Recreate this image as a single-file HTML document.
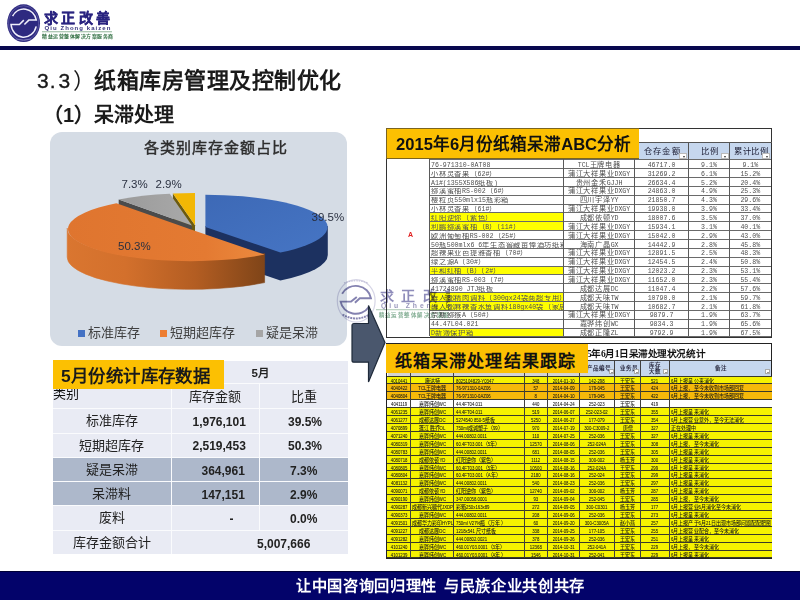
<!DOCTYPE html>
<html lang="zh-CN"><head><meta charset="utf-8">
<style>
*{margin:0;padding:0;box-sizing:border-box}
html,body{width:800px;height:600px;overflow:hidden;background:#fff;font-family:"Liberation Sans",sans-serif;color:#000}
.a{position:absolute}
.n{white-space:nowrap}
#topbar{left:0;top:46.3px;width:800px;height:3.4px;background:#08084f}
#title{left:94px;top:66px;font-size:22px;font-weight:bold;color:#1a1a1a;white-space:nowrap;line-height:30px;letter-spacing:0.5px}
#sub{left:43px;top:100.5px;font-size:20px;font-weight:bold;color:#1a1a1a;white-space:nowrap;line-height:28px}
#panel{left:50px;top:132px;width:297px;height:214px;background:#d5dce5;border-radius:12px}
.lbl{font-size:11.5px;color:#2a3040;white-space:nowrap;line-height:14px}
.leg{font-size:13px;color:#404040;white-space:nowrap;line-height:16px}
.sq{width:7px;height:7px}
/* stock table */
.tb{background:#e9ebf4;font-size:13px;color:#222;white-space:nowrap;text-align:center;line-height:24px}
.hl{background:#adb8cb}
.bn{font-weight:bold}
.nm{font-size:12px}
/* sheets */
.tt{position:absolute;font-family:"Liberation Mono",monospace;font-size:6.6px;line-height:7px;color:#505050;white-space:nowrap;letter-spacing:0}
.hd{font-size:8.3px;line-height:9px;color:#1a1a30;font-weight:normal;font-family:"Liberation Serif",serif}
.fb{width:8px;height:6px;background:#fff;border:0.5px solid #bbb}
.fb::after{content:"";position:absolute;left:2.5px;top:2px;border-left:1.5px solid transparent;border-right:1.5px solid transparent;border-top:2px solid #333}
.bt{position:absolute;font-size:5px;line-height:7px;color:#141414;-webkit-text-stroke:0.05px #141414;white-space:nowrap;transform:scaleX(0.86)}
.bt span{font-size:5.2px;letter-spacing:0.3px}
.hb{font-size:5.5px;line-height:6px;color:#2a2a40;font-weight:bold}
.fs{width:5px;height:5px;background:#fff;border:0.5px solid #aaa}
.fs::after{content:"";position:absolute;left:1px;top:1.5px;border-left:1.2px solid transparent;border-right:1.2px solid transparent;border-top:1.5px solid #333}
.c{position:absolute;border-right:1px solid #333;border-bottom:1px solid #333;font-size:7.5px;line-height:8px;color:#333;white-space:nowrap;overflow:hidden;padding:0 2px;font-family:"Liberation Mono",monospace}
.d{position:absolute;border-right:1px solid #444;border-bottom:1px solid #444;font-size:5px;line-height:7.5px;color:#555;white-space:nowrap;overflow:hidden;padding:0 1px}
#footer{left:0;top:571px;width:800px;height:29px;background:#03036a;border-top:1.5px solid #000035;color:#fff;font-size:15.2px;letter-spacing:0.68px;font-weight:bold;white-space:nowrap}
</style></head><body>
<!-- logo -->
<svg class="a" style="left:0;top:0" width="120" height="46" viewBox="0 0 120 46">
<ellipse cx="23.6" cy="23.2" rx="16.4" ry="18.9" fill="#2e2a80"/>
<ellipse cx="23.6" cy="23.2" rx="15" ry="17.5" fill="none" stroke="#7d79bb" stroke-width="0.5"/>
<path d="M12.6,16.2 A12.8,14 0 0 1 36.3,20.1 L28.8,20.1 L24.4,24.5" fill="none" stroke="#f0effa" stroke-width="1.5"/>
<path d="M36.2,26.4 A12.8,14 0 0 1 11.0,24.5 L19.4,24.5 L23.8,20.1" fill="none" stroke="#f0effa" stroke-width="1.5"/>
<path d="M16,39 Q23.6,41 31,39" fill="none" stroke="#9a96cc" stroke-width="0.6"/>
<text x="43.6" y="22.6" font-size="14" font-weight="bold" fill="#2a2480" stroke="#2a2480" stroke-width="0.35" letter-spacing="3.5">求正改善</text>
<text x="44.6" y="29.8" font-size="6" font-weight="bold" fill="#38357e" letter-spacing="1.05">Qiu Zhong kaizen</text>
<rect x="42" y="31.2" width="70" height="1.1" fill="#9cbca4"/>
<text x="42.3" y="38.2" font-size="4.9" font-weight="bold" fill="#2f6e40" letter-spacing="0.5">精益运营整体解决方案服务商</text>
</svg>
<div id="topbar" class="a"></div>
<div class="a n" style="left:37px;top:66px;font-size:21px;line-height:30px;color:#1a1a1a;-webkit-text-stroke:0.35px #1a1a1a">3<span style="margin-left:1px">.</span><span style="margin-left:3px">3</span></div>
<div id="title" class="a"><span class="a" style="left:-21.5px;top:0;font-weight:normal">）</span>纸箱库房管理及控制优化</div>
<div id="sub" class="a">（1）呆滞处理</div>

<!-- pie panel -->
<div id="panel" class="a"></div>
<div class="a n" style="left:143.5px;top:136.5px;font-size:15px;font-weight:normal;color:#2e2e2e;line-height:22px;letter-spacing:1.1px;-webkit-text-stroke:0.45px #2e2e2e">各类别库存金额占比</div>
<svg class="a" style="left:0;top:0" width="800" height="600" viewBox="0 0 800 600"><defs>
<linearGradient id="bg" x1="0" y1="0" x2="1" y2="1"><stop offset="0" stop-color="#3d69b6"/><stop offset="1" stop-color="#4675c4"/></linearGradient>
<linearGradient id="gg" x1="0" y1="0" x2="1" y2="0"><stop offset="0" stop-color="#9a9a9a"/><stop offset="1" stop-color="#a9a9a9"/></linearGradient>
<linearGradient id="og" gradientUnits="userSpaceOnUse" x1="65" y1="0" x2="266" y2="0"><stop offset="0" stop-color="#da7630"/><stop offset="0.3" stop-color="#d3702c"/><stop offset="0.65" stop-color="#b35d22"/><stop offset="1" stop-color="#7e4418"/></linearGradient>
<linearGradient id="ot" x1="0" y1="0" x2="1" y2="0"><stop offset="0" stop-color="#df752f"/><stop offset="0.7" stop-color="#e47a32"/><stop offset="1" stop-color="#ec8a3e"/></linearGradient>
</defs>
<path d="M195.0,225.2 L172.9,193.5 L172.9,221.5 L195.0,253.2 Z" fill="#6b5a10"/>
<path d="M191.9,225.4 L118.7,199.6 L118.7,227.6 L191.9,253.4 Z" fill="#4b4b4b"/>
<path d="M191.9,225.4 L118.7,199.6 A122.4,32.2 0 0 1 169.8,193.8 Z" fill="url(#gg)"/>
<path d="M195.0,225.2 L172.9,193.5 A122.4,32.2 0 0 1 195.0,193.0 Z" fill="#f2b705"/>
<path d="M205.4,226.0 L327.8,226.0 L327.8,255.0 A122.4,32.2 0 0 1 280.4,280.4 L205.4,255.0 Z" fill="#1c3160"/>
<path d="M205.4,227.0 L205.4,194.8 A122.4,32.2 0 0 1 280.4,252.4 Z" fill="url(#bg)"/>
<path d="M264.6,253.6 A122.4,32.2 0 0 1 67.2,228.1 L67.2,257.1 A122.4,32.2 0 0 0 264.6,282.6 Z" fill="url(#og)" stroke="url(#og)" stroke-width="0.6"/>
<path d="M189.6,229.1 L264.6,254.6 A122.4,32.2 0 1 1 116.4,203.3 Z" fill="url(#ot)"/></svg>
<div class="a lbl" style="left:121.5px;top:176.5px">7.3%</div>
<div class="a lbl" style="left:155.5px;top:176.5px">2.9%</div>
<div class="a lbl" style="left:311.5px;top:209.5px">39.5%</div>
<div class="a lbl" style="left:118px;top:238.5px">50.3%</div>
<div class="a sq" style="left:78px;top:330px;background:#4472c4"></div>
<div class="a leg" style="left:88px;top:325px">标准库存</div>
<div class="a sq" style="left:160px;top:330px;background:#ed7d31"></div>
<div class="a leg" style="left:170px;top:325px">短期超库存</div>
<div class="a sq" style="left:256px;top:330px;background:#a5a5a5"></div>
<div class="a leg" style="left:266px;top:325px">疑是呆滞</div>

<!-- stock table -->
<div class="a" style="left:53px;top:361px;width:295px;height:193px;background:#fafbfd"></div>
<div class="a tb" style="left:53px;top:361px;width:295px;height:21.7px"></div>
<div class="a n bn" style="left:251.5px;top:364.5px;font-size:11.5px;line-height:16px;color:#222">5月</div>
<div class="a tb" style="left:53px;top:383.5px;width:117.5px;height:24.5px;text-align:left;line-height:19px;color:#111">类别</div>
<div class="a tb" style="left:171.5px;top:383.5px;width:87.5px;height:24.5px;line-height:26px">库存金额</div>
<div class="a tb" style="left:260px;top:383.5px;width:88px;height:24.5px;line-height:26px">比重</div>
<div class="a tb" style="left:53px;top:409px;width:117.5px;height:23.5px;line-height:23.5px">标准库存</div>
<div class="a tb bn nm" style="left:171.5px;top:409px;width:87.5px;height:23.5px;text-align:left;padding-left:21px;line-height:23.5px;padding-top:1.5px">1,976,101</div>
<div class="a tb bn nm" style="left:260px;top:409px;width:88px;height:23.5px;text-align:left;padding-left:28px;line-height:23.5px;padding-top:1.5px">39.5%</div>
<div class="a tb" style="left:53px;top:433.5px;width:117.5px;height:23.8px;line-height:23.8px">短期超库存</div>
<div class="a tb bn nm" style="left:171.5px;top:433.5px;width:87.5px;height:23.8px;text-align:left;padding-left:21px;line-height:23.8px;padding-top:1.5px">2,519,453</div>
<div class="a tb bn nm" style="left:260px;top:433.5px;width:88px;height:23.8px;text-align:left;padding-left:28px;line-height:23.8px;padding-top:1.5px">50.3%</div>
<div class="a tb hl" style="left:53px;top:458.3px;width:117.5px;height:23.0px;line-height:23.0px">疑是呆滞</div>
<div class="a tb hl bn nm" style="left:171.5px;top:458.3px;width:87.5px;height:23.0px;text-align:left;padding-left:30px;line-height:23.0px;padding-top:1.5px">364,961</div>
<div class="a tb hl bn nm" style="left:260px;top:458.3px;width:88px;height:23.0px;text-align:left;padding-left:30px;line-height:23.0px;padding-top:1.5px">7.3%</div>
<div class="a tb hl" style="left:53px;top:482.3px;width:117.5px;height:23.0px;line-height:23.0px">呆滞料</div>
<div class="a tb hl bn nm" style="left:171.5px;top:482.3px;width:87.5px;height:23.0px;text-align:left;padding-left:30px;line-height:23.0px;padding-top:1.5px">147,151</div>
<div class="a tb hl bn nm" style="left:260px;top:482.3px;width:88px;height:23.0px;text-align:left;padding-left:30px;line-height:23.0px;padding-top:1.5px">2.9%</div>
<div class="a tb" style="left:53px;top:506.3px;width:117.5px;height:23.8px;line-height:23.8px">废料</div>
<div class="a tb bn nm" style="left:171.5px;top:506.3px;width:87.5px;height:23.8px;text-align:left;padding-left:58px;line-height:23.8px;padding-top:1.5px">-</div>
<div class="a tb bn nm" style="left:260px;top:506.3px;width:88px;height:23.8px;text-align:left;padding-left:30px;line-height:23.8px;padding-top:1.5px">0.0%</div>
<div class="a tb" style="left:53px;top:531.1px;width:117.5px;height:23px;line-height:23px">库存金额合计</div>
<div class="a tb bn nm" style="left:171.5px;top:531.1px;width:176.5px;height:23px;text-align:left;padding-left:85.5px;line-height:23px;padding-top:1.5px">5,007,666</div>

<div class="a n" style="left:53px;top:360px;width:171px;height:28.5px;background:#fcc002;font-size:17.4px;font-weight:bold;line-height:32px;padding-left:8px;color:#1a1a1a;letter-spacing:0.4px">5月份统计库存数据</div>


<!-- top sheet -->
<div class="a" style="left:429.5px;top:159px;width:342px;height:178px;background:#fff"></div>
<div class="a" style="left:638px;top:128.5px;width:133px;height:31px;background:#fff"></div>
<div class="a" style="left:429.5px;top:212.36px;width:134.25px;height:8.86px;background:#ffff00"></div>
<div class="a" style="left:429.5px;top:221.22px;width:134.25px;height:8.86px;background:#ffff00"></div>
<div class="a" style="left:429.5px;top:265.52px;width:134.25px;height:8.86px;background:#ffff00"></div>
<div class="a" style="left:429.5px;top:292.10px;width:134.25px;height:8.86px;background:#ffff00"></div>
<div class="a" style="left:429.5px;top:300.96px;width:134.25px;height:8.86px;background:#ffff00"></div>
<div class="a" style="left:429.5px;top:327.54px;width:134.25px;height:8.86px;background:#ffff00"></div>
<div class="a" style="left:429.5px;top:159.20px;width:341.75px;height:1px;background:#6a6a6a"></div>
<div class="a" style="left:429.5px;top:168.06px;width:341.75px;height:1px;background:#6a6a6a"></div>
<div class="a" style="left:429.5px;top:176.92px;width:341.75px;height:1px;background:#6a6a6a"></div>
<div class="a" style="left:429.5px;top:185.78px;width:341.75px;height:1px;background:#6a6a6a"></div>
<div class="a" style="left:429.5px;top:194.64px;width:341.75px;height:1px;background:#6a6a6a"></div>
<div class="a" style="left:429.5px;top:203.50px;width:341.75px;height:1px;background:#6a6a6a"></div>
<div class="a" style="left:429.5px;top:212.36px;width:341.75px;height:1px;background:#6a6a6a"></div>
<div class="a" style="left:429.5px;top:221.22px;width:341.75px;height:1px;background:#6a6a6a"></div>
<div class="a" style="left:429.5px;top:230.08px;width:341.75px;height:1px;background:#6a6a6a"></div>
<div class="a" style="left:429.5px;top:238.94px;width:341.75px;height:1px;background:#6a6a6a"></div>
<div class="a" style="left:429.5px;top:247.80px;width:341.75px;height:1px;background:#6a6a6a"></div>
<div class="a" style="left:429.5px;top:256.66px;width:341.75px;height:1px;background:#6a6a6a"></div>
<div class="a" style="left:429.5px;top:265.52px;width:341.75px;height:1px;background:#6a6a6a"></div>
<div class="a" style="left:429.5px;top:274.38px;width:341.75px;height:1px;background:#6a6a6a"></div>
<div class="a" style="left:429.5px;top:283.24px;width:341.75px;height:1px;background:#6a6a6a"></div>
<div class="a" style="left:429.5px;top:292.10px;width:341.75px;height:1px;background:#6a6a6a"></div>
<div class="a" style="left:429.5px;top:300.96px;width:341.75px;height:1px;background:#6a6a6a"></div>
<div class="a" style="left:429.5px;top:309.82px;width:341.75px;height:1px;background:#6a6a6a"></div>
<div class="a" style="left:429.5px;top:318.68px;width:341.75px;height:1px;background:#6a6a6a"></div>
<div class="a" style="left:429.5px;top:327.54px;width:341.75px;height:1px;background:#6a6a6a"></div>
<div class="a" style="left:429.5px;top:336.40px;width:341.75px;height:1px;background:#6a6a6a"></div>
<div class="a" style="left:429.00px;top:159.20px;width:1px;height:177.20px;background:#5a5a5a"></div>
<div class="a" style="left:563.25px;top:159.20px;width:1px;height:177.20px;background:#5a5a5a"></div>
<div class="a" style="left:634.00px;top:159.20px;width:1px;height:177.20px;background:#5a5a5a"></div>
<div class="a" style="left:688.00px;top:159.20px;width:1px;height:177.20px;background:#5a5a5a"></div>
<div class="a" style="left:728.90px;top:159.20px;width:1px;height:177.20px;background:#5a5a5a"></div>
<div class="tt" style="left:431.00px;top:161.80px;width:132.25px;overflow:hidden">76-971310-0AT08</div>
<div class="tt" style="left:563.75px;top:161.80px;width:70.75px;text-align:center">TCL<span style="font-size:7.2px;letter-spacing:0.75px">王牌电器</span></div>
<div class="tt" style="left:634.50px;top:161.80px;width:54.00px;text-align:center">46717.0</div>
<div class="tt" style="left:688.50px;top:161.80px;width:40.90px;text-align:center">9.1%</div>
<div class="tt" style="left:729.40px;top:161.80px;width:41.85px;text-align:center">9.1%</div>
<div class="tt" style="left:431.00px;top:170.66px;width:132.25px;overflow:hidden"><span style="font-size:7.2px;letter-spacing:0.75px">小林灵香果（</span>62#<span style="font-size:7.2px;letter-spacing:0.75px">）</span></div>
<div class="tt" style="left:563.75px;top:170.66px;width:70.75px;text-align:center"><span style="font-size:7.2px;letter-spacing:0.75px">蒲江大祥果业</span>DXGY</div>
<div class="tt" style="left:634.50px;top:170.66px;width:54.00px;text-align:center">31269.2</div>
<div class="tt" style="left:688.50px;top:170.66px;width:40.90px;text-align:center">6.1%</div>
<div class="tt" style="left:729.40px;top:170.66px;width:41.85px;text-align:center">15.2%</div>
<div class="tt" style="left:431.00px;top:179.52px;width:132.25px;overflow:hidden">A1#(1355X586<span style="font-size:7.2px;letter-spacing:0.75px">纸板</span>)</div>
<div class="tt" style="left:563.75px;top:179.52px;width:70.75px;text-align:center"><span style="font-size:7.2px;letter-spacing:0.75px">贵州金禾</span>GJJH</div>
<div class="tt" style="left:634.50px;top:179.52px;width:54.00px;text-align:center">26634.4</div>
<div class="tt" style="left:688.50px;top:179.52px;width:40.90px;text-align:center">5.2%</div>
<div class="tt" style="left:729.40px;top:179.52px;width:41.85px;text-align:center">20.4%</div>
<div class="tt" style="left:431.00px;top:188.38px;width:132.25px;overflow:hidden"><span style="font-size:7.2px;letter-spacing:0.75px">猕溪蜜柚</span>RS-002<span style="font-size:7.2px;letter-spacing:0.75px">（</span>6#<span style="font-size:7.2px;letter-spacing:0.75px">）</span></div>
<div class="tt" style="left:563.75px;top:188.38px;width:70.75px;text-align:center"><span style="font-size:7.2px;letter-spacing:0.75px">蒲江大祥果业</span>DXGY</div>
<div class="tt" style="left:634.50px;top:188.38px;width:54.00px;text-align:center">24863.0</div>
<div class="tt" style="left:688.50px;top:188.38px;width:40.90px;text-align:center">4.9%</div>
<div class="tt" style="left:729.40px;top:188.38px;width:41.85px;text-align:center">25.3%</div>
<div class="tt" style="left:431.00px;top:197.24px;width:132.25px;overflow:hidden"><span style="font-size:7.2px;letter-spacing:0.75px">樱粒页</span>550mlx15<span style="font-size:7.2px;letter-spacing:0.75px">瓶彩箱</span></div>
<div class="tt" style="left:563.75px;top:197.24px;width:70.75px;text-align:center"><span style="font-size:7.2px;letter-spacing:0.75px">四川宇泽</span>YY</div>
<div class="tt" style="left:634.50px;top:197.24px;width:54.00px;text-align:center">21850.7</div>
<div class="tt" style="left:688.50px;top:197.24px;width:40.90px;text-align:center">4.3%</div>
<div class="tt" style="left:729.40px;top:197.24px;width:41.85px;text-align:center">29.6%</div>
<div class="tt" style="left:431.00px;top:206.10px;width:132.25px;overflow:hidden"><span style="font-size:7.2px;letter-spacing:0.75px">小林灵香果（</span>61#<span style="font-size:7.2px;letter-spacing:0.75px">）</span></div>
<div class="tt" style="left:563.75px;top:206.10px;width:70.75px;text-align:center"><span style="font-size:7.2px;letter-spacing:0.75px">蒲江大祥果业</span>DXGY</div>
<div class="tt" style="left:634.50px;top:206.10px;width:54.00px;text-align:center">19938.0</div>
<div class="tt" style="left:688.50px;top:206.10px;width:40.90px;text-align:center">3.9%</div>
<div class="tt" style="left:729.40px;top:206.10px;width:41.85px;text-align:center">33.4%</div>
<div class="tt" style="left:431.00px;top:214.96px;width:132.25px;overflow:hidden"><span style="font-size:7.2px;letter-spacing:0.75px">红阳逆你（紫色）</span></div>
<div class="tt" style="left:563.75px;top:214.96px;width:70.75px;text-align:center"><span style="font-size:7.2px;letter-spacing:0.75px">成都依顿</span>YD</div>
<div class="tt" style="left:634.50px;top:214.96px;width:54.00px;text-align:center">18007.6</div>
<div class="tt" style="left:688.50px;top:214.96px;width:40.90px;text-align:center">3.5%</div>
<div class="tt" style="left:729.40px;top:214.96px;width:41.85px;text-align:center">37.0%</div>
<div class="tt" style="left:431.00px;top:223.82px;width:132.25px;overflow:hidden"><span style="font-size:7.2px;letter-spacing:0.75px">利鹏猕溪蜜柚（</span>B<span style="font-size:7.2px;letter-spacing:0.75px">）（</span>11#<span style="font-size:7.2px;letter-spacing:0.75px">）</span></div>
<div class="tt" style="left:563.75px;top:223.82px;width:70.75px;text-align:center"><span style="font-size:7.2px;letter-spacing:0.75px">蒲江大祥果业</span>DXGY</div>
<div class="tt" style="left:634.50px;top:223.82px;width:54.00px;text-align:center">15934.1</div>
<div class="tt" style="left:688.50px;top:223.82px;width:40.90px;text-align:center">3.1%</div>
<div class="tt" style="left:729.40px;top:223.82px;width:41.85px;text-align:center">40.1%</div>
<div class="tt" style="left:431.00px;top:232.68px;width:132.25px;overflow:hidden"><span style="font-size:7.2px;letter-spacing:0.75px">欧洲葡萄柚</span>RS-002<span style="font-size:7.2px;letter-spacing:0.75px">（</span>25#<span style="font-size:7.2px;letter-spacing:0.75px">）</span></div>
<div class="tt" style="left:563.75px;top:232.68px;width:70.75px;text-align:center"><span style="font-size:7.2px;letter-spacing:0.75px">蒲江大祥果业</span>DXGY</div>
<div class="tt" style="left:634.50px;top:232.68px;width:54.00px;text-align:center">15042.0</div>
<div class="tt" style="left:688.50px;top:232.68px;width:40.90px;text-align:center">2.9%</div>
<div class="tt" style="left:729.40px;top:232.68px;width:41.85px;text-align:center">43.0%</div>
<div class="tt" style="left:431.00px;top:241.54px;width:132.25px;overflow:hidden">50<span style="font-size:7.2px;letter-spacing:0.75px">瓶</span>500mlx6 6<span style="font-size:7.2px;letter-spacing:0.75px">年生态窖藏亩俸酒坊纸箱</span></div>
<div class="tt" style="left:563.75px;top:241.54px;width:70.75px;text-align:center"><span style="font-size:7.2px;letter-spacing:0.75px">海南广晶</span>GX</div>
<div class="tt" style="left:634.50px;top:241.54px;width:54.00px;text-align:center">14442.9</div>
<div class="tt" style="left:688.50px;top:241.54px;width:40.90px;text-align:center">2.8%</div>
<div class="tt" style="left:729.40px;top:241.54px;width:41.85px;text-align:center">45.8%</div>
<div class="tt" style="left:431.00px;top:250.40px;width:132.25px;overflow:hidden"><span style="font-size:7.2px;letter-spacing:0.75px">超辣果业芭提雅香柚（</span>70#<span style="font-size:7.2px;letter-spacing:0.75px">）</span></div>
<div class="tt" style="left:563.75px;top:250.40px;width:70.75px;text-align:center"><span style="font-size:7.2px;letter-spacing:0.75px">蒲江大祥果业</span>DXGY</div>
<div class="tt" style="left:634.50px;top:250.40px;width:54.00px;text-align:center">12891.5</div>
<div class="tt" style="left:688.50px;top:250.40px;width:40.90px;text-align:center">2.5%</div>
<div class="tt" style="left:729.40px;top:250.40px;width:41.85px;text-align:center">48.3%</div>
<div class="tt" style="left:431.00px;top:259.26px;width:132.25px;overflow:hidden"><span style="font-size:7.2px;letter-spacing:0.75px">绿之源</span>A<span style="font-size:7.2px;letter-spacing:0.75px">（</span>30#<span style="font-size:7.2px;letter-spacing:0.75px">）</span></div>
<div class="tt" style="left:563.75px;top:259.26px;width:70.75px;text-align:center"><span style="font-size:7.2px;letter-spacing:0.75px">蒲江大祥果业</span>DXGY</div>
<div class="tt" style="left:634.50px;top:259.26px;width:54.00px;text-align:center">12454.5</div>
<div class="tt" style="left:688.50px;top:259.26px;width:40.90px;text-align:center">2.4%</div>
<div class="tt" style="left:729.40px;top:259.26px;width:41.85px;text-align:center">50.8%</div>
<div class="tt" style="left:431.00px;top:268.12px;width:132.25px;overflow:hidden"><span style="font-size:7.2px;letter-spacing:0.75px">平和红柚（</span>B<span style="font-size:7.2px;letter-spacing:0.75px">）（</span>2#<span style="font-size:7.2px;letter-spacing:0.75px">）</span></div>
<div class="tt" style="left:563.75px;top:268.12px;width:70.75px;text-align:center"><span style="font-size:7.2px;letter-spacing:0.75px">蒲江大祥果业</span>DXGY</div>
<div class="tt" style="left:634.50px;top:268.12px;width:54.00px;text-align:center">12023.2</div>
<div class="tt" style="left:688.50px;top:268.12px;width:40.90px;text-align:center">2.3%</div>
<div class="tt" style="left:729.40px;top:268.12px;width:41.85px;text-align:center">53.1%</div>
<div class="tt" style="left:431.00px;top:276.98px;width:132.25px;overflow:hidden"><span style="font-size:7.2px;letter-spacing:0.75px">猕溪蜜柚</span>RS-003<span style="font-size:7.2px;letter-spacing:0.75px">（</span>7#<span style="font-size:7.2px;letter-spacing:0.75px">）</span></div>
<div class="tt" style="left:563.75px;top:276.98px;width:70.75px;text-align:center"><span style="font-size:7.2px;letter-spacing:0.75px">蒲江大祥果业</span>DXGY</div>
<div class="tt" style="left:634.50px;top:276.98px;width:54.00px;text-align:center">11652.0</div>
<div class="tt" style="left:688.50px;top:276.98px;width:40.90px;text-align:center">2.3%</div>
<div class="tt" style="left:729.40px;top:276.98px;width:41.85px;text-align:center">55.4%</div>
<div class="tt" style="left:431.00px;top:285.84px;width:132.25px;overflow:hidden">41724890 JTJ<span style="font-size:7.2px;letter-spacing:0.75px">纸板</span></div>
<div class="tt" style="left:563.75px;top:285.84px;width:70.75px;text-align:center"><span style="font-size:7.2px;letter-spacing:0.75px">成都达展</span>DC</div>
<div class="tt" style="left:634.50px;top:285.84px;width:54.00px;text-align:center">11047.4</div>
<div class="tt" style="left:688.50px;top:285.84px;width:40.90px;text-align:center">2.2%</div>
<div class="tt" style="left:729.40px;top:285.84px;width:41.85px;text-align:center">57.6%</div>
<div class="tt" style="left:431.00px;top:294.70px;width:132.25px;overflow:hidden"><span style="font-size:7.2px;letter-spacing:0.75px">犇人都精肉调料（</span>300gx24<span style="font-size:7.2px;letter-spacing:0.75px">袋商超专用）</span></div>
<div class="tt" style="left:563.75px;top:294.70px;width:70.75px;text-align:center"><span style="font-size:7.2px;letter-spacing:0.75px">成都天味</span>TW</div>
<div class="tt" style="left:634.50px;top:294.70px;width:54.00px;text-align:center">10790.0</div>
<div class="tt" style="left:688.50px;top:294.70px;width:40.90px;text-align:center">2.1%</div>
<div class="tt" style="left:729.40px;top:294.70px;width:41.85px;text-align:center">59.7%</div>
<div class="tt" style="left:431.00px;top:303.56px;width:132.25px;overflow:hidden"><span style="font-size:7.2px;letter-spacing:0.75px">犇人都麻辣香水鱼调料</span>180gx40<span style="font-size:7.2px;letter-spacing:0.75px">袋（家居</span></div>
<div class="tt" style="left:563.75px;top:303.56px;width:70.75px;text-align:center"><span style="font-size:7.2px;letter-spacing:0.75px">成都天味</span>TW</div>
<div class="tt" style="left:634.50px;top:303.56px;width:54.00px;text-align:center">10682.7</div>
<div class="tt" style="left:688.50px;top:303.56px;width:40.90px;text-align:center">2.1%</div>
<div class="tt" style="left:729.40px;top:303.56px;width:41.85px;text-align:center">61.8%</div>
<div class="tt" style="left:431.00px;top:312.42px;width:132.25px;overflow:hidden"><span style="font-size:7.2px;letter-spacing:0.75px">奈斯猕猴</span>A<span style="font-size:7.2px;letter-spacing:0.75px">（</span>50#<span style="font-size:7.2px;letter-spacing:0.75px">）</span></div>
<div class="tt" style="left:563.75px;top:312.42px;width:70.75px;text-align:center"><span style="font-size:7.2px;letter-spacing:0.75px">蒲江大祥果业</span>DXGY</div>
<div class="tt" style="left:634.50px;top:312.42px;width:54.00px;text-align:center">9879.7</div>
<div class="tt" style="left:688.50px;top:312.42px;width:40.90px;text-align:center">1.9%</div>
<div class="tt" style="left:729.40px;top:312.42px;width:41.85px;text-align:center">63.7%</div>
<div class="tt" style="left:431.00px;top:321.28px;width:132.25px;overflow:hidden">44.47L04.021</div>
<div class="tt" style="left:563.75px;top:321.28px;width:70.75px;text-align:center"><span style="font-size:7.2px;letter-spacing:0.75px">嘉骅纬创</span>WC</div>
<div class="tt" style="left:634.50px;top:321.28px;width:54.00px;text-align:center">9834.3</div>
<div class="tt" style="left:688.50px;top:321.28px;width:40.90px;text-align:center">1.9%</div>
<div class="tt" style="left:729.40px;top:321.28px;width:41.85px;text-align:center">65.6%</div>
<div class="tt" style="left:431.00px;top:330.14px;width:132.25px;overflow:hidden">D<span style="font-size:7.2px;letter-spacing:0.75px">新簿保护箱</span></div>
<div class="tt" style="left:563.75px;top:330.14px;width:70.75px;text-align:center"><span style="font-size:7.2px;letter-spacing:0.75px">成都正隆</span>ZL</div>
<div class="tt" style="left:634.50px;top:330.14px;width:54.00px;text-align:center">9792.9</div>
<div class="tt" style="left:688.50px;top:330.14px;width:40.90px;text-align:center">1.9%</div>
<div class="tt" style="left:729.40px;top:330.14px;width:41.85px;text-align:center">67.5%</div>
<div class="a" style="left:386px;top:127.5px;width:386px;height:210px;border:1.2px solid #333;border-right-width:1.6px"></div>
<div class="a" style="left:408px;top:230.5px;font-size:7px;color:#e02020;font-weight:bold">A</div>
<div class="a" style="left:638.7px;top:142px;width:133px;height:1px;background:#555"></div>
<div class="a" style="left:638.7px;top:143px;width:132.5px;height:16px;background:#c6d7ee"></div>
<div class="a" style="left:688px;top:142px;width:1px;height:17px;background:#555"></div>
<div class="a" style="left:729px;top:142px;width:1px;height:17px;background:#555"></div>
<div class="a n hd" style="left:644px;top:147px;letter-spacing:1.2px">仓存金额</div>
<div class="a n hd" style="left:701px;top:147px;letter-spacing:1.2px">比例</div>
<div class="a n hd" style="left:734px;top:147px;letter-spacing:0.6px">累计比例</div>
<div class="a fb" style="left:679px;top:152.5px"></div>
<div class="a fb" style="left:720.5px;top:152.5px"></div>
<div class="a fb" style="left:762px;top:152.5px"></div>
<div class="a n" style="left:386px;top:128px;width:253px;height:30.5px;background:#fcc002;border:1px solid #7a6420;border-right:none;font-size:16.6px;font-weight:bold;line-height:32px;padding-left:9px;color:#111">2015年6月份纸箱呆滞ABC分析</div>

<!-- watermark -->
<svg class="a" style="left:330px;top:275px;mix-blend-mode:multiply" width="120" height="50" viewBox="330 275 120 50">
<ellipse cx="356.2" cy="300.9" rx="18.9" ry="21.2" fill="none" stroke="#d6d5e6" stroke-width="1.2"/>
<path d="M344,283 Q356,278.5 368,283" fill="none" stroke="#c4c2da" stroke-width="1.2" stroke-dasharray="1.5,1"/>
<path d="M342.1,293.8 A15.4,14.6 0 0 1 371,298.3 L359.8,298.3 L354.9,302.8" fill="none" stroke="#8482b0" stroke-width="1.9"/>
<path d="M368.8,307 A15.4,14.6 0 0 1 340.6,301.6 L351.1,301.6 L356.8,297.1" fill="none" stroke="#8482b0" stroke-width="1.9"/>
<path d="M342.5,314.5 Q356,322.5 369.5,314.5" fill="none" stroke="#8886b2" stroke-width="2" stroke-dasharray="2,0.8"/>
<text x="379.5" y="300.5" font-size="14" font-weight="bold" fill="#8e8cba" letter-spacing="7.6">求正改善</text>
<text x="381" y="307.5" font-size="6.8" font-weight="bold" fill="#9896bb" letter-spacing="2.9">Qiu Zheng kaizen</text>
<rect x="376" y="309.3" width="100" height="0.9" fill="#a3c2ab"/>
<text x="378.5" y="316.8" font-size="5.4" font-weight="bold" fill="#86b096" letter-spacing="1.45">精益运营整体解决方案服务商</text>
</svg>
<!-- bottom sheet -->
<div class="a" style="left:386px;top:343px;width:386px;height:216px;border:1.5px solid #222;border-left-width:1.5px;background:#fff"></div>
<div class="a" style="left:387.5px;top:359.6px;width:383px;height:1px;background:#444"></div>
<div class="a" style="left:387.5px;top:360.5px;width:383px;height:15.5px;background:#c6d7ee"></div>
<div class="a" style="left:387.5px;top:370px;width:200px;height:6px;background:#d4d4d4"></div>
<div class="a n" style="left:587px;top:348px;font-size:9.6px;line-height:11px;color:#111;font-weight:bold;font-family:'Liberation Serif',serif;letter-spacing:-0.45px">5年6月1日呆滞处理状况统计</div>
<div class="a n hb" style="left:587px;top:365px">产品编号</div>
<div class="a n hb" style="left:619.5px;top:365px">业务员</div>
<div class="a n hb" style="left:649px;top:362px;line-height:6.2px">库存<br>天数</div>
<div class="a n hb" style="left:715px;top:365px">备注</div>
<div class="a fs" style="left:608.5px;top:369px"></div>
<div class="a fs" style="left:634px;top:369px"></div>
<div class="a fs" style="left:663px;top:369px"></div>
<div class="a fs" style="left:764.5px;top:369px"></div>
<div class="a" style="left:386.5px;top:376.00px;width:385.00px;height:7.91px;background:#f6f200"></div>
<div class="a" style="left:386.5px;top:383.91px;width:385.00px;height:7.91px;background:#f6b90a"></div>
<div class="a" style="left:386.5px;top:391.82px;width:385.00px;height:7.91px;background:#f6b90a"></div>
<div class="a" style="left:386.5px;top:399.73px;width:385.00px;height:7.91px;background:#ffffff"></div>
<div class="a" style="left:386.5px;top:407.64px;width:385.00px;height:7.91px;background:#f6f200"></div>
<div class="a" style="left:386.5px;top:415.55px;width:385.00px;height:7.91px;background:#f6f200"></div>
<div class="a" style="left:386.5px;top:423.46px;width:385.00px;height:7.91px;background:#f6f200"></div>
<div class="a" style="left:386.5px;top:431.37px;width:385.00px;height:7.91px;background:#f6f200"></div>
<div class="a" style="left:386.5px;top:439.28px;width:385.00px;height:7.91px;background:#f6f200"></div>
<div class="a" style="left:386.5px;top:447.19px;width:385.00px;height:7.91px;background:#f6f200"></div>
<div class="a" style="left:386.5px;top:455.10px;width:385.00px;height:7.91px;background:#f6f200"></div>
<div class="a" style="left:386.5px;top:463.01px;width:385.00px;height:7.91px;background:#f6f200"></div>
<div class="a" style="left:386.5px;top:470.92px;width:385.00px;height:7.91px;background:#f6f200"></div>
<div class="a" style="left:386.5px;top:478.83px;width:385.00px;height:7.91px;background:#f6f200"></div>
<div class="a" style="left:386.5px;top:486.74px;width:385.00px;height:7.91px;background:#f6f200"></div>
<div class="a" style="left:386.5px;top:494.65px;width:385.00px;height:7.91px;background:#f6f200"></div>
<div class="a" style="left:386.5px;top:502.56px;width:385.00px;height:7.91px;background:#f6f200"></div>
<div class="a" style="left:386.5px;top:510.47px;width:385.00px;height:7.91px;background:#f6f200"></div>
<div class="a" style="left:386.5px;top:518.38px;width:385.00px;height:7.91px;background:#f6f200"></div>
<div class="a" style="left:386.5px;top:526.29px;width:385.00px;height:7.91px;background:#f6f200"></div>
<div class="a" style="left:386.5px;top:534.20px;width:385.00px;height:7.91px;background:#f6f200"></div>
<div class="a" style="left:386.5px;top:542.11px;width:385.00px;height:7.91px;background:#f6f200"></div>
<div class="a" style="left:386.5px;top:550.02px;width:385.00px;height:7.91px;background:#f6f200"></div>
<div class="a" style="left:386.5px;top:375.50px;width:385.00px;height:1px;background:#3a3a2a"></div>
<div class="a" style="left:386.5px;top:383.41px;width:385.00px;height:1px;background:#3a3a2a"></div>
<div class="a" style="left:386.5px;top:391.32px;width:385.00px;height:1px;background:#3a3a2a"></div>
<div class="a" style="left:386.5px;top:399.23px;width:385.00px;height:1px;background:#3a3a2a"></div>
<div class="a" style="left:386.5px;top:407.14px;width:385.00px;height:1px;background:#3a3a2a"></div>
<div class="a" style="left:386.5px;top:415.05px;width:385.00px;height:1px;background:#3a3a2a"></div>
<div class="a" style="left:386.5px;top:422.96px;width:385.00px;height:1px;background:#3a3a2a"></div>
<div class="a" style="left:386.5px;top:430.87px;width:385.00px;height:1px;background:#3a3a2a"></div>
<div class="a" style="left:386.5px;top:438.78px;width:385.00px;height:1px;background:#3a3a2a"></div>
<div class="a" style="left:386.5px;top:446.69px;width:385.00px;height:1px;background:#3a3a2a"></div>
<div class="a" style="left:386.5px;top:454.60px;width:385.00px;height:1px;background:#3a3a2a"></div>
<div class="a" style="left:386.5px;top:462.51px;width:385.00px;height:1px;background:#3a3a2a"></div>
<div class="a" style="left:386.5px;top:470.42px;width:385.00px;height:1px;background:#3a3a2a"></div>
<div class="a" style="left:386.5px;top:478.33px;width:385.00px;height:1px;background:#3a3a2a"></div>
<div class="a" style="left:386.5px;top:486.24px;width:385.00px;height:1px;background:#3a3a2a"></div>
<div class="a" style="left:386.5px;top:494.15px;width:385.00px;height:1px;background:#3a3a2a"></div>
<div class="a" style="left:386.5px;top:502.06px;width:385.00px;height:1px;background:#3a3a2a"></div>
<div class="a" style="left:386.5px;top:509.97px;width:385.00px;height:1px;background:#3a3a2a"></div>
<div class="a" style="left:386.5px;top:517.88px;width:385.00px;height:1px;background:#3a3a2a"></div>
<div class="a" style="left:386.5px;top:525.79px;width:385.00px;height:1px;background:#3a3a2a"></div>
<div class="a" style="left:386.5px;top:533.70px;width:385.00px;height:1px;background:#3a3a2a"></div>
<div class="a" style="left:386.5px;top:541.61px;width:385.00px;height:1px;background:#3a3a2a"></div>
<div class="a" style="left:386.5px;top:549.52px;width:385.00px;height:1px;background:#3a3a2a"></div>
<div class="a" style="left:386.5px;top:557.43px;width:385.00px;height:1px;background:#3a3a2a"></div>
<div class="a" style="left:410.30px;top:360.00px;width:1px;height:197.93px;background:#404040"></div>
<div class="a" style="left:453.10px;top:360.00px;width:1px;height:197.93px;background:#404040"></div>
<div class="a" style="left:523.50px;top:360.00px;width:1px;height:197.93px;background:#404040"></div>
<div class="a" style="left:547.10px;top:360.00px;width:1px;height:197.93px;background:#404040"></div>
<div class="a" style="left:578.50px;top:360.00px;width:1px;height:197.93px;background:#404040"></div>
<div class="a" style="left:614.00px;top:360.00px;width:1px;height:197.93px;background:#404040"></div>
<div class="a" style="left:639.50px;top:360.00px;width:1px;height:197.93px;background:#404040"></div>
<div class="a" style="left:668.50px;top:360.00px;width:1px;height:197.93px;background:#404040"></div>
<div class="bt" style="left:386.50px;top:377.50px;width:28.26px;text-align:center;overflow:hidden;transform-origin:0 0">4010441</div>
<div class="bt" style="left:410.80px;top:377.50px;width:49.77px;text-align:center;overflow:hidden;transform-origin:0 0"><span style="font-size:5.8px;letter-spacing:-0.15px">哦达特</span></div>
<div class="bt" style="left:455.60px;top:377.50px;width:78.95px;overflow:hidden;transform-origin:0 0">8025104829-Y0347</div>
<div class="bt" style="left:524.00px;top:377.50px;width:27.44px;text-align:center;overflow:hidden;transform-origin:0 0">348</div>
<div class="bt" style="left:547.60px;top:377.50px;width:36.51px;text-align:center;overflow:hidden;transform-origin:0 0">2014-01-10</div>
<div class="bt" style="left:579.00px;top:377.50px;width:41.28px;text-align:center;overflow:hidden;transform-origin:0 0">142-298</div>
<div class="bt" style="left:614.50px;top:377.50px;width:29.65px;text-align:center;overflow:hidden;transform-origin:0 0"><span style="font-size:5.8px;letter-spacing:-0.15px">王宏东</span></div>
<div class="bt" style="left:640.00px;top:377.50px;width:33.72px;text-align:center;overflow:hidden;transform-origin:0 0">521</div>
<div class="bt" style="left:671.00px;top:377.50px;width:116.28px;overflow:hidden;transform-origin:0 0">6<span style="font-size:5.8px;letter-spacing:-0.15px">月上报呈公来消化</span></div>
<div class="bt" style="left:386.50px;top:385.41px;width:28.26px;text-align:center;overflow:hidden;transform-origin:0 0">4040422</div>
<div class="bt" style="left:410.80px;top:385.41px;width:49.77px;text-align:center;overflow:hidden;transform-origin:0 0">TCL<span style="font-size:5.8px;letter-spacing:-0.15px">王牌电器</span></div>
<div class="bt" style="left:455.60px;top:385.41px;width:78.95px;overflow:hidden;transform-origin:0 0">76-971310-0AZ06</div>
<div class="bt" style="left:524.00px;top:385.41px;width:27.44px;text-align:center;overflow:hidden;transform-origin:0 0">57</div>
<div class="bt" style="left:547.60px;top:385.41px;width:36.51px;text-align:center;overflow:hidden;transform-origin:0 0">2014-04-09</div>
<div class="bt" style="left:579.00px;top:385.41px;width:41.28px;text-align:center;overflow:hidden;transform-origin:0 0">179-045</div>
<div class="bt" style="left:614.50px;top:385.41px;width:29.65px;text-align:center;overflow:hidden;transform-origin:0 0"><span style="font-size:5.8px;letter-spacing:-0.15px">王宏东</span></div>
<div class="bt" style="left:640.00px;top:385.41px;width:33.72px;text-align:center;overflow:hidden;transform-origin:0 0">424</div>
<div class="bt" style="left:671.00px;top:385.41px;width:116.28px;overflow:hidden;transform-origin:0 0">6<span style="font-size:5.8px;letter-spacing:-0.15px">月上报，至今未收到市场部回复</span></div>
<div class="bt" style="left:386.50px;top:393.32px;width:28.26px;text-align:center;overflow:hidden;transform-origin:0 0">4040804</div>
<div class="bt" style="left:410.80px;top:393.32px;width:49.77px;text-align:center;overflow:hidden;transform-origin:0 0">TCL<span style="font-size:5.8px;letter-spacing:-0.15px">王牌电器</span></div>
<div class="bt" style="left:455.60px;top:393.32px;width:78.95px;overflow:hidden;transform-origin:0 0">76-971310-0AZ06</div>
<div class="bt" style="left:524.00px;top:393.32px;width:27.44px;text-align:center;overflow:hidden;transform-origin:0 0">8</div>
<div class="bt" style="left:547.60px;top:393.32px;width:36.51px;text-align:center;overflow:hidden;transform-origin:0 0">2014-04-10</div>
<div class="bt" style="left:579.00px;top:393.32px;width:41.28px;text-align:center;overflow:hidden;transform-origin:0 0">179-045</div>
<div class="bt" style="left:614.50px;top:393.32px;width:29.65px;text-align:center;overflow:hidden;transform-origin:0 0"><span style="font-size:5.8px;letter-spacing:-0.15px">王宏东</span></div>
<div class="bt" style="left:640.00px;top:393.32px;width:33.72px;text-align:center;overflow:hidden;transform-origin:0 0">422</div>
<div class="bt" style="left:671.00px;top:393.32px;width:116.28px;overflow:hidden;transform-origin:0 0">6<span style="font-size:5.8px;letter-spacing:-0.15px">月上报，至今未收到市场部回复</span></div>
<div class="bt" style="left:386.50px;top:401.23px;width:28.26px;text-align:center;overflow:hidden;transform-origin:0 0">4041119</div>
<div class="bt" style="left:410.80px;top:401.23px;width:49.77px;text-align:center;overflow:hidden;transform-origin:0 0"><span style="font-size:5.8px;letter-spacing:-0.15px">嘉骅纬创</span>WC</div>
<div class="bt" style="left:455.60px;top:401.23px;width:78.95px;overflow:hidden;transform-origin:0 0">44.4FT04.011</div>
<div class="bt" style="left:524.00px;top:401.23px;width:27.44px;text-align:center;overflow:hidden;transform-origin:0 0">440</div>
<div class="bt" style="left:547.60px;top:401.23px;width:36.51px;text-align:center;overflow:hidden;transform-origin:0 0">2014-04-24</div>
<div class="bt" style="left:579.00px;top:401.23px;width:41.28px;text-align:center;overflow:hidden;transform-origin:0 0">252-023</div>
<div class="bt" style="left:614.50px;top:401.23px;width:29.65px;text-align:center;overflow:hidden;transform-origin:0 0"><span style="font-size:5.8px;letter-spacing:-0.15px">王宏东</span></div>
<div class="bt" style="left:640.00px;top:401.23px;width:33.72px;text-align:center;overflow:hidden;transform-origin:0 0">419</div>
<div class="bt" style="left:386.50px;top:409.14px;width:28.26px;text-align:center;overflow:hidden;transform-origin:0 0">4061235</div>
<div class="bt" style="left:410.80px;top:409.14px;width:49.77px;text-align:center;overflow:hidden;transform-origin:0 0"><span style="font-size:5.8px;letter-spacing:-0.15px">嘉骅纬创</span>WC</div>
<div class="bt" style="left:455.60px;top:409.14px;width:78.95px;overflow:hidden;transform-origin:0 0">44.4FT04.011</div>
<div class="bt" style="left:524.00px;top:409.14px;width:27.44px;text-align:center;overflow:hidden;transform-origin:0 0">519</div>
<div class="bt" style="left:547.60px;top:409.14px;width:36.51px;text-align:center;overflow:hidden;transform-origin:0 0">2014-06-07</div>
<div class="bt" style="left:579.00px;top:409.14px;width:41.28px;text-align:center;overflow:hidden;transform-origin:0 0">252-023-02</div>
<div class="bt" style="left:614.50px;top:409.14px;width:29.65px;text-align:center;overflow:hidden;transform-origin:0 0"><span style="font-size:5.8px;letter-spacing:-0.15px">王宏东</span></div>
<div class="bt" style="left:640.00px;top:409.14px;width:33.72px;text-align:center;overflow:hidden;transform-origin:0 0">355</div>
<div class="bt" style="left:671.00px;top:409.14px;width:116.28px;overflow:hidden;transform-origin:0 0">6<span style="font-size:5.8px;letter-spacing:-0.15px">月上报呈来消化</span></div>
<div class="bt" style="left:386.50px;top:417.05px;width:28.26px;text-align:center;overflow:hidden;transform-origin:0 0">4061277</div>
<div class="bt" style="left:410.80px;top:417.05px;width:49.77px;text-align:center;overflow:hidden;transform-origin:0 0"><span style="font-size:5.8px;letter-spacing:-0.15px">成都达展</span>DC</div>
<div class="bt" style="left:455.60px;top:417.05px;width:78.95px;overflow:hidden;transform-origin:0 0">5274540 850-5<span style="font-size:5.8px;letter-spacing:-0.15px">纸板</span></div>
<div class="bt" style="left:524.00px;top:417.05px;width:27.44px;text-align:center;overflow:hidden;transform-origin:0 0">5250</div>
<div class="bt" style="left:547.60px;top:417.05px;width:36.51px;text-align:center;overflow:hidden;transform-origin:0 0">2014-06-27</div>
<div class="bt" style="left:579.00px;top:417.05px;width:41.28px;text-align:center;overflow:hidden;transform-origin:0 0">177-079</div>
<div class="bt" style="left:614.50px;top:417.05px;width:29.65px;text-align:center;overflow:hidden;transform-origin:0 0"><span style="font-size:5.8px;letter-spacing:-0.15px">王宏东</span></div>
<div class="bt" style="left:640.00px;top:417.05px;width:33.72px;text-align:center;overflow:hidden;transform-origin:0 0">354</div>
<div class="bt" style="left:671.00px;top:417.05px;width:116.28px;overflow:hidden;transform-origin:0 0">6<span style="font-size:5.8px;letter-spacing:-0.15px">月上报营业意外，至今无法消化</span></div>
<div class="bt" style="left:386.50px;top:424.96px;width:28.26px;text-align:center;overflow:hidden;transform-origin:0 0">4070899</div>
<div class="bt" style="left:410.80px;top:424.96px;width:49.77px;text-align:center;overflow:hidden;transform-origin:0 0"><span style="font-size:5.8px;letter-spacing:-0.15px">蓬江胜乔</span>OL</div>
<div class="bt" style="left:455.60px;top:424.96px;width:78.95px;overflow:hidden;transform-origin:0 0">750ml<span style="font-size:5.8px;letter-spacing:-0.15px">成诚塑子（</span>99<span style="font-size:5.8px;letter-spacing:-0.15px">）</span></div>
<div class="bt" style="left:524.00px;top:424.96px;width:27.44px;text-align:center;overflow:hidden;transform-origin:0 0">970</div>
<div class="bt" style="left:547.60px;top:424.96px;width:36.51px;text-align:center;overflow:hidden;transform-origin:0 0">2014-07-19</div>
<div class="bt" style="left:579.00px;top:424.96px;width:41.28px;text-align:center;overflow:hidden;transform-origin:0 0">300-C3009-2</div>
<div class="bt" style="left:614.50px;top:424.96px;width:29.65px;text-align:center;overflow:hidden;transform-origin:0 0"><span style="font-size:5.8px;letter-spacing:-0.15px">唐僧</span></div>
<div class="bt" style="left:640.00px;top:424.96px;width:33.72px;text-align:center;overflow:hidden;transform-origin:0 0">327</div>
<div class="bt" style="left:671.00px;top:424.96px;width:116.28px;overflow:hidden;transform-origin:0 0"><span style="font-size:5.8px;letter-spacing:-0.15px">正在处理中</span></div>
<div class="bt" style="left:386.50px;top:432.87px;width:28.26px;text-align:center;overflow:hidden;transform-origin:0 0">4071240</div>
<div class="bt" style="left:410.80px;top:432.87px;width:49.77px;text-align:center;overflow:hidden;transform-origin:0 0"><span style="font-size:5.8px;letter-spacing:-0.15px">嘉骅纬创</span>WC</div>
<div class="bt" style="left:455.60px;top:432.87px;width:78.95px;overflow:hidden;transform-origin:0 0">444.00802.0011</div>
<div class="bt" style="left:524.00px;top:432.87px;width:27.44px;text-align:center;overflow:hidden;transform-origin:0 0">110</div>
<div class="bt" style="left:547.60px;top:432.87px;width:36.51px;text-align:center;overflow:hidden;transform-origin:0 0">2014-07-25</div>
<div class="bt" style="left:579.00px;top:432.87px;width:41.28px;text-align:center;overflow:hidden;transform-origin:0 0">252-036</div>
<div class="bt" style="left:614.50px;top:432.87px;width:29.65px;text-align:center;overflow:hidden;transform-origin:0 0"><span style="font-size:5.8px;letter-spacing:-0.15px">王宏东</span></div>
<div class="bt" style="left:640.00px;top:432.87px;width:33.72px;text-align:center;overflow:hidden;transform-origin:0 0">327</div>
<div class="bt" style="left:671.00px;top:432.87px;width:116.28px;overflow:hidden;transform-origin:0 0">6<span style="font-size:5.8px;letter-spacing:-0.15px">月上报呈来消化</span></div>
<div class="bt" style="left:386.50px;top:440.78px;width:28.26px;text-align:center;overflow:hidden;transform-origin:0 0">4080319</div>
<div class="bt" style="left:410.80px;top:440.78px;width:49.77px;text-align:center;overflow:hidden;transform-origin:0 0"><span style="font-size:5.8px;letter-spacing:-0.15px">嘉骅纬创</span>WC</div>
<div class="bt" style="left:455.60px;top:440.78px;width:78.95px;overflow:hidden;transform-origin:0 0">60.4FT03.001<span style="font-size:5.8px;letter-spacing:-0.15px">（</span>5<span style="font-size:5.8px;letter-spacing:-0.15px">年）</span></div>
<div class="bt" style="left:524.00px;top:440.78px;width:27.44px;text-align:center;overflow:hidden;transform-origin:0 0">12570</div>
<div class="bt" style="left:547.60px;top:440.78px;width:36.51px;text-align:center;overflow:hidden;transform-origin:0 0">2014-08-06</div>
<div class="bt" style="left:579.00px;top:440.78px;width:41.28px;text-align:center;overflow:hidden;transform-origin:0 0">252-024A</div>
<div class="bt" style="left:614.50px;top:440.78px;width:29.65px;text-align:center;overflow:hidden;transform-origin:0 0"><span style="font-size:5.8px;letter-spacing:-0.15px">王宏东</span></div>
<div class="bt" style="left:640.00px;top:440.78px;width:33.72px;text-align:center;overflow:hidden;transform-origin:0 0">308</div>
<div class="bt" style="left:671.00px;top:440.78px;width:116.28px;overflow:hidden;transform-origin:0 0">6<span style="font-size:5.8px;letter-spacing:-0.15px">月上报，至今未消化</span></div>
<div class="bt" style="left:386.50px;top:448.69px;width:28.26px;text-align:center;overflow:hidden;transform-origin:0 0">4080783</div>
<div class="bt" style="left:410.80px;top:448.69px;width:49.77px;text-align:center;overflow:hidden;transform-origin:0 0"><span style="font-size:5.8px;letter-spacing:-0.15px">嘉骅纬创</span>WC</div>
<div class="bt" style="left:455.60px;top:448.69px;width:78.95px;overflow:hidden;transform-origin:0 0">444.00802.0011</div>
<div class="bt" style="left:524.00px;top:448.69px;width:27.44px;text-align:center;overflow:hidden;transform-origin:0 0">681</div>
<div class="bt" style="left:547.60px;top:448.69px;width:36.51px;text-align:center;overflow:hidden;transform-origin:0 0">2014-08-05</div>
<div class="bt" style="left:579.00px;top:448.69px;width:41.28px;text-align:center;overflow:hidden;transform-origin:0 0">252-036</div>
<div class="bt" style="left:614.50px;top:448.69px;width:29.65px;text-align:center;overflow:hidden;transform-origin:0 0"><span style="font-size:5.8px;letter-spacing:-0.15px">王宏东</span></div>
<div class="bt" style="left:640.00px;top:448.69px;width:33.72px;text-align:center;overflow:hidden;transform-origin:0 0">305</div>
<div class="bt" style="left:671.00px;top:448.69px;width:116.28px;overflow:hidden;transform-origin:0 0">6<span style="font-size:5.8px;letter-spacing:-0.15px">月上报呈来消化</span></div>
<div class="bt" style="left:386.50px;top:456.60px;width:28.26px;text-align:center;overflow:hidden;transform-origin:0 0">4080718</div>
<div class="bt" style="left:410.80px;top:456.60px;width:49.77px;text-align:center;overflow:hidden;transform-origin:0 0"><span style="font-size:5.8px;letter-spacing:-0.15px">成都依顿</span>YD</div>
<div class="bt" style="left:455.60px;top:456.60px;width:78.95px;overflow:hidden;transform-origin:0 0"><span style="font-size:5.8px;letter-spacing:-0.15px">红阳逆你（紫色）</span></div>
<div class="bt" style="left:524.00px;top:456.60px;width:27.44px;text-align:center;overflow:hidden;transform-origin:0 0">1112</div>
<div class="bt" style="left:547.60px;top:456.60px;width:36.51px;text-align:center;overflow:hidden;transform-origin:0 0">2014-08-15</div>
<div class="bt" style="left:579.00px;top:456.60px;width:41.28px;text-align:center;overflow:hidden;transform-origin:0 0">300-002</div>
<div class="bt" style="left:614.50px;top:456.60px;width:29.65px;text-align:center;overflow:hidden;transform-origin:0 0"><span style="font-size:5.8px;letter-spacing:-0.15px">杨玉芳</span></div>
<div class="bt" style="left:640.00px;top:456.60px;width:33.72px;text-align:center;overflow:hidden;transform-origin:0 0">300</div>
<div class="bt" style="left:671.00px;top:456.60px;width:116.28px;overflow:hidden;transform-origin:0 0">6<span style="font-size:5.8px;letter-spacing:-0.15px">月上报呈来消化</span></div>
<div class="bt" style="left:386.50px;top:464.51px;width:28.26px;text-align:center;overflow:hidden;transform-origin:0 0">4080805</div>
<div class="bt" style="left:410.80px;top:464.51px;width:49.77px;text-align:center;overflow:hidden;transform-origin:0 0"><span style="font-size:5.8px;letter-spacing:-0.15px">嘉骅纬创</span>WC</div>
<div class="bt" style="left:455.60px;top:464.51px;width:78.95px;overflow:hidden;transform-origin:0 0">60.4FT03.001<span style="font-size:5.8px;letter-spacing:-0.15px">（</span>5<span style="font-size:5.8px;letter-spacing:-0.15px">年）</span></div>
<div class="bt" style="left:524.00px;top:464.51px;width:27.44px;text-align:center;overflow:hidden;transform-origin:0 0">10500</div>
<div class="bt" style="left:547.60px;top:464.51px;width:36.51px;text-align:center;overflow:hidden;transform-origin:0 0">2014-08-16</div>
<div class="bt" style="left:579.00px;top:464.51px;width:41.28px;text-align:center;overflow:hidden;transform-origin:0 0">252-024A</div>
<div class="bt" style="left:614.50px;top:464.51px;width:29.65px;text-align:center;overflow:hidden;transform-origin:0 0"><span style="font-size:5.8px;letter-spacing:-0.15px">王宏东</span></div>
<div class="bt" style="left:640.00px;top:464.51px;width:33.72px;text-align:center;overflow:hidden;transform-origin:0 0">299</div>
<div class="bt" style="left:671.00px;top:464.51px;width:116.28px;overflow:hidden;transform-origin:0 0">6<span style="font-size:5.8px;letter-spacing:-0.15px">月上报呈来消化</span></div>
<div class="bt" style="left:386.50px;top:472.42px;width:28.26px;text-align:center;overflow:hidden;transform-origin:0 0">4080804</div>
<div class="bt" style="left:410.80px;top:472.42px;width:49.77px;text-align:center;overflow:hidden;transform-origin:0 0"><span style="font-size:5.8px;letter-spacing:-0.15px">嘉骅纬创</span>WC</div>
<div class="bt" style="left:455.60px;top:472.42px;width:78.95px;overflow:hidden;transform-origin:0 0">60.4FT03.001<span style="font-size:5.8px;letter-spacing:-0.15px">（</span>A<span style="font-size:5.8px;letter-spacing:-0.15px">年）</span></div>
<div class="bt" style="left:524.00px;top:472.42px;width:27.44px;text-align:center;overflow:hidden;transform-origin:0 0">2180</div>
<div class="bt" style="left:547.60px;top:472.42px;width:36.51px;text-align:center;overflow:hidden;transform-origin:0 0">2014-08-16</div>
<div class="bt" style="left:579.00px;top:472.42px;width:41.28px;text-align:center;overflow:hidden;transform-origin:0 0">252-024</div>
<div class="bt" style="left:614.50px;top:472.42px;width:29.65px;text-align:center;overflow:hidden;transform-origin:0 0"><span style="font-size:5.8px;letter-spacing:-0.15px">王宏东</span></div>
<div class="bt" style="left:640.00px;top:472.42px;width:33.72px;text-align:center;overflow:hidden;transform-origin:0 0">299</div>
<div class="bt" style="left:671.00px;top:472.42px;width:116.28px;overflow:hidden;transform-origin:0 0">6<span style="font-size:5.8px;letter-spacing:-0.15px">月上报呈来消化</span></div>
<div class="bt" style="left:386.50px;top:480.33px;width:28.26px;text-align:center;overflow:hidden;transform-origin:0 0">4081132</div>
<div class="bt" style="left:410.80px;top:480.33px;width:49.77px;text-align:center;overflow:hidden;transform-origin:0 0"><span style="font-size:5.8px;letter-spacing:-0.15px">嘉骅纬创</span>WC</div>
<div class="bt" style="left:455.60px;top:480.33px;width:78.95px;overflow:hidden;transform-origin:0 0">444.00802.0011</div>
<div class="bt" style="left:524.00px;top:480.33px;width:27.44px;text-align:center;overflow:hidden;transform-origin:0 0">540</div>
<div class="bt" style="left:547.60px;top:480.33px;width:36.51px;text-align:center;overflow:hidden;transform-origin:0 0">2014-08-23</div>
<div class="bt" style="left:579.00px;top:480.33px;width:41.28px;text-align:center;overflow:hidden;transform-origin:0 0">252-036</div>
<div class="bt" style="left:614.50px;top:480.33px;width:29.65px;text-align:center;overflow:hidden;transform-origin:0 0"><span style="font-size:5.8px;letter-spacing:-0.15px">王宏东</span></div>
<div class="bt" style="left:640.00px;top:480.33px;width:33.72px;text-align:center;overflow:hidden;transform-origin:0 0">297</div>
<div class="bt" style="left:671.00px;top:480.33px;width:116.28px;overflow:hidden;transform-origin:0 0">6<span style="font-size:5.8px;letter-spacing:-0.15px">月上报呈来消化</span></div>
<div class="bt" style="left:386.50px;top:488.24px;width:28.26px;text-align:center;overflow:hidden;transform-origin:0 0">4090071</div>
<div class="bt" style="left:410.80px;top:488.24px;width:49.77px;text-align:center;overflow:hidden;transform-origin:0 0"><span style="font-size:5.8px;letter-spacing:-0.15px">成都依顿</span>YD</div>
<div class="bt" style="left:455.60px;top:488.24px;width:78.95px;overflow:hidden;transform-origin:0 0"><span style="font-size:5.8px;letter-spacing:-0.15px">红阳逆你（紫色）</span></div>
<div class="bt" style="left:524.00px;top:488.24px;width:27.44px;text-align:center;overflow:hidden;transform-origin:0 0">12740</div>
<div class="bt" style="left:547.60px;top:488.24px;width:36.51px;text-align:center;overflow:hidden;transform-origin:0 0">2014-09-02</div>
<div class="bt" style="left:579.00px;top:488.24px;width:41.28px;text-align:center;overflow:hidden;transform-origin:0 0">300-002</div>
<div class="bt" style="left:614.50px;top:488.24px;width:29.65px;text-align:center;overflow:hidden;transform-origin:0 0"><span style="font-size:5.8px;letter-spacing:-0.15px">杨玉芳</span></div>
<div class="bt" style="left:640.00px;top:488.24px;width:33.72px;text-align:center;overflow:hidden;transform-origin:0 0">287</div>
<div class="bt" style="left:671.00px;top:488.24px;width:116.28px;overflow:hidden;transform-origin:0 0">6<span style="font-size:5.8px;letter-spacing:-0.15px">月上报呈来消化</span></div>
<div class="bt" style="left:386.50px;top:496.15px;width:28.26px;text-align:center;overflow:hidden;transform-origin:0 0">4090190</div>
<div class="bt" style="left:410.80px;top:496.15px;width:49.77px;text-align:center;overflow:hidden;transform-origin:0 0"><span style="font-size:5.8px;letter-spacing:-0.15px">嘉骅纬创</span>WC</div>
<div class="bt" style="left:455.60px;top:496.15px;width:78.95px;overflow:hidden;transform-origin:0 0">347.00058.0001</div>
<div class="bt" style="left:524.00px;top:496.15px;width:27.44px;text-align:center;overflow:hidden;transform-origin:0 0">93</div>
<div class="bt" style="left:547.60px;top:496.15px;width:36.51px;text-align:center;overflow:hidden;transform-origin:0 0">2014-09-04</div>
<div class="bt" style="left:579.00px;top:496.15px;width:41.28px;text-align:center;overflow:hidden;transform-origin:0 0">252-045</div>
<div class="bt" style="left:614.50px;top:496.15px;width:29.65px;text-align:center;overflow:hidden;transform-origin:0 0"><span style="font-size:5.8px;letter-spacing:-0.15px">王宏东</span></div>
<div class="bt" style="left:640.00px;top:496.15px;width:33.72px;text-align:center;overflow:hidden;transform-origin:0 0">285</div>
<div class="bt" style="left:671.00px;top:496.15px;width:116.28px;overflow:hidden;transform-origin:0 0">6<span style="font-size:5.8px;letter-spacing:-0.15px">月上报，至今未消化</span></div>
<div class="bt" style="left:386.50px;top:504.06px;width:28.26px;text-align:center;overflow:hidden;transform-origin:0 0">4090287</div>
<div class="bt" style="left:410.80px;top:504.06px;width:49.77px;text-align:center;overflow:hidden;transform-origin:0 0"><span style="font-size:5.8px;letter-spacing:-0.15px">成都新兴糖代</span>JXDP</div>
<div class="bt" style="left:455.60px;top:504.06px;width:78.95px;overflow:hidden;transform-origin:0 0"><span style="font-size:5.8px;letter-spacing:-0.15px">彩箱</span>250x163x89</div>
<div class="bt" style="left:524.00px;top:504.06px;width:27.44px;text-align:center;overflow:hidden;transform-origin:0 0">272</div>
<div class="bt" style="left:547.60px;top:504.06px;width:36.51px;text-align:center;overflow:hidden;transform-origin:0 0">2014-09-05</div>
<div class="bt" style="left:579.00px;top:504.06px;width:41.28px;text-align:center;overflow:hidden;transform-origin:0 0">300-C0301</div>
<div class="bt" style="left:614.50px;top:504.06px;width:29.65px;text-align:center;overflow:hidden;transform-origin:0 0"><span style="font-size:5.8px;letter-spacing:-0.15px">杨玉芳</span></div>
<div class="bt" style="left:640.00px;top:504.06px;width:33.72px;text-align:center;overflow:hidden;transform-origin:0 0">177</div>
<div class="bt" style="left:671.00px;top:504.06px;width:116.28px;overflow:hidden;transform-origin:0 0">6<span style="font-size:5.8px;letter-spacing:-0.15px">月上报营业</span>6<span style="font-size:5.8px;letter-spacing:-0.15px">月消化至今未消化</span></div>
<div class="bt" style="left:386.50px;top:511.97px;width:28.26px;text-align:center;overflow:hidden;transform-origin:0 0">4090373</div>
<div class="bt" style="left:410.80px;top:511.97px;width:49.77px;text-align:center;overflow:hidden;transform-origin:0 0"><span style="font-size:5.8px;letter-spacing:-0.15px">嘉骅纬创</span>WC</div>
<div class="bt" style="left:455.60px;top:511.97px;width:78.95px;overflow:hidden;transform-origin:0 0">444.00802.0011</div>
<div class="bt" style="left:524.00px;top:511.97px;width:27.44px;text-align:center;overflow:hidden;transform-origin:0 0">208</div>
<div class="bt" style="left:547.60px;top:511.97px;width:36.51px;text-align:center;overflow:hidden;transform-origin:0 0">2014-09-06</div>
<div class="bt" style="left:579.00px;top:511.97px;width:41.28px;text-align:center;overflow:hidden;transform-origin:0 0">252-036</div>
<div class="bt" style="left:614.50px;top:511.97px;width:29.65px;text-align:center;overflow:hidden;transform-origin:0 0"><span style="font-size:5.8px;letter-spacing:-0.15px">王宏东</span></div>
<div class="bt" style="left:640.00px;top:511.97px;width:33.72px;text-align:center;overflow:hidden;transform-origin:0 0">273</div>
<div class="bt" style="left:671.00px;top:511.97px;width:116.28px;overflow:hidden;transform-origin:0 0">6<span style="font-size:5.8px;letter-spacing:-0.15px">月上报呈来消化</span></div>
<div class="bt" style="left:386.50px;top:519.88px;width:28.26px;text-align:center;overflow:hidden;transform-origin:0 0">4091501</div>
<div class="bt" style="left:410.80px;top:519.88px;width:49.77px;text-align:center;overflow:hidden;transform-origin:0 0"><span style="font-size:5.8px;letter-spacing:-0.15px">成都华力彩印</span>HYPL</div>
<div class="bt" style="left:455.60px;top:519.88px;width:78.95px;overflow:hidden;transform-origin:0 0">750ml V27%<span style="font-size:5.8px;letter-spacing:-0.15px">瓶（万年）</span></div>
<div class="bt" style="left:524.00px;top:519.88px;width:27.44px;text-align:center;overflow:hidden;transform-origin:0 0">60</div>
<div class="bt" style="left:547.60px;top:519.88px;width:36.51px;text-align:center;overflow:hidden;transform-origin:0 0">2014-09-20</div>
<div class="bt" style="left:579.00px;top:519.88px;width:41.28px;text-align:center;overflow:hidden;transform-origin:0 0">300-C3005A</div>
<div class="bt" style="left:614.50px;top:519.88px;width:29.65px;text-align:center;overflow:hidden;transform-origin:0 0"><span style="font-size:5.8px;letter-spacing:-0.15px">赵小燕</span></div>
<div class="bt" style="left:640.00px;top:519.88px;width:33.72px;text-align:center;overflow:hidden;transform-origin:0 0">257</div>
<div class="bt" style="left:671.00px;top:519.88px;width:116.28px;overflow:hidden;transform-origin:0 0">6<span style="font-size:5.8px;letter-spacing:-0.15px">月上报产于</span>6<span style="font-size:5.8px;letter-spacing:-0.15px">月</span>21<span style="font-size:5.8px;letter-spacing:-0.15px">日出现市场部问题配配肥图</span></div>
<div class="bt" style="left:386.50px;top:527.79px;width:28.26px;text-align:center;overflow:hidden;transform-origin:0 0">4091227</div>
<div class="bt" style="left:410.80px;top:527.79px;width:49.77px;text-align:center;overflow:hidden;transform-origin:0 0"><span style="font-size:5.8px;letter-spacing:-0.15px">成都达展</span>DC</div>
<div class="bt" style="left:455.60px;top:527.79px;width:78.95px;overflow:hidden;transform-origin:0 0">1218x541 <span style="font-size:5.8px;letter-spacing:-0.15px">尺寸纸板</span></div>
<div class="bt" style="left:524.00px;top:527.79px;width:27.44px;text-align:center;overflow:hidden;transform-origin:0 0">338</div>
<div class="bt" style="left:547.60px;top:527.79px;width:36.51px;text-align:center;overflow:hidden;transform-origin:0 0">2014-09-25</div>
<div class="bt" style="left:579.00px;top:527.79px;width:41.28px;text-align:center;overflow:hidden;transform-origin:0 0">177-105</div>
<div class="bt" style="left:614.50px;top:527.79px;width:29.65px;text-align:center;overflow:hidden;transform-origin:0 0"><span style="font-size:5.8px;letter-spacing:-0.15px">王宏东</span></div>
<div class="bt" style="left:640.00px;top:527.79px;width:33.72px;text-align:center;overflow:hidden;transform-origin:0 0">255</div>
<div class="bt" style="left:671.00px;top:527.79px;width:116.28px;overflow:hidden;transform-origin:0 0">6<span style="font-size:5.8px;letter-spacing:-0.15px">月上报营业配合，至今未消化</span></div>
<div class="bt" style="left:386.50px;top:535.70px;width:28.26px;text-align:center;overflow:hidden;transform-origin:0 0">4091282</div>
<div class="bt" style="left:410.80px;top:535.70px;width:49.77px;text-align:center;overflow:hidden;transform-origin:0 0"><span style="font-size:5.8px;letter-spacing:-0.15px">嘉骅纬创</span>WC</div>
<div class="bt" style="left:455.60px;top:535.70px;width:78.95px;overflow:hidden;transform-origin:0 0">444.00802.0021</div>
<div class="bt" style="left:524.00px;top:535.70px;width:27.44px;text-align:center;overflow:hidden;transform-origin:0 0">378</div>
<div class="bt" style="left:547.60px;top:535.70px;width:36.51px;text-align:center;overflow:hidden;transform-origin:0 0">2014-09-26</div>
<div class="bt" style="left:579.00px;top:535.70px;width:41.28px;text-align:center;overflow:hidden;transform-origin:0 0">252-036</div>
<div class="bt" style="left:614.50px;top:535.70px;width:29.65px;text-align:center;overflow:hidden;transform-origin:0 0"><span style="font-size:5.8px;letter-spacing:-0.15px">王宏东</span></div>
<div class="bt" style="left:640.00px;top:535.70px;width:33.72px;text-align:center;overflow:hidden;transform-origin:0 0">251</div>
<div class="bt" style="left:671.00px;top:535.70px;width:116.28px;overflow:hidden;transform-origin:0 0">6<span style="font-size:5.8px;letter-spacing:-0.15px">月上报呈来消化</span></div>
<div class="bt" style="left:386.50px;top:543.61px;width:28.26px;text-align:center;overflow:hidden;transform-origin:0 0">4101240</div>
<div class="bt" style="left:410.80px;top:543.61px;width:49.77px;text-align:center;overflow:hidden;transform-origin:0 0"><span style="font-size:5.8px;letter-spacing:-0.15px">嘉骅纬创</span>WC</div>
<div class="bt" style="left:455.60px;top:543.61px;width:78.95px;overflow:hidden;transform-origin:0 0">460.01Y03.0001<span style="font-size:5.8px;letter-spacing:-0.15px">（</span>3<span style="font-size:5.8px;letter-spacing:-0.15px">年）</span></div>
<div class="bt" style="left:524.00px;top:543.61px;width:27.44px;text-align:center;overflow:hidden;transform-origin:0 0">12368</div>
<div class="bt" style="left:547.60px;top:543.61px;width:36.51px;text-align:center;overflow:hidden;transform-origin:0 0">2014-10-31</div>
<div class="bt" style="left:579.00px;top:543.61px;width:41.28px;text-align:center;overflow:hidden;transform-origin:0 0">252-041A</div>
<div class="bt" style="left:614.50px;top:543.61px;width:29.65px;text-align:center;overflow:hidden;transform-origin:0 0"><span style="font-size:5.8px;letter-spacing:-0.15px">王宏东</span></div>
<div class="bt" style="left:640.00px;top:543.61px;width:33.72px;text-align:center;overflow:hidden;transform-origin:0 0">229</div>
<div class="bt" style="left:671.00px;top:543.61px;width:116.28px;overflow:hidden;transform-origin:0 0">6<span style="font-size:5.8px;letter-spacing:-0.15px">月上报，至今未消化</span></div>
<div class="bt" style="left:386.50px;top:551.52px;width:28.26px;text-align:center;overflow:hidden;transform-origin:0 0">4101239</div>
<div class="bt" style="left:410.80px;top:551.52px;width:49.77px;text-align:center;overflow:hidden;transform-origin:0 0"><span style="font-size:5.8px;letter-spacing:-0.15px">嘉骅纬创</span>WC</div>
<div class="bt" style="left:455.60px;top:551.52px;width:78.95px;overflow:hidden;transform-origin:0 0">460.01Y03.0001<span style="font-size:5.8px;letter-spacing:-0.15px">（</span>A<span style="font-size:5.8px;letter-spacing:-0.15px">年）</span></div>
<div class="bt" style="left:524.00px;top:551.52px;width:27.44px;text-align:center;overflow:hidden;transform-origin:0 0">1546</div>
<div class="bt" style="left:547.60px;top:551.52px;width:36.51px;text-align:center;overflow:hidden;transform-origin:0 0">2014-10-31</div>
<div class="bt" style="left:579.00px;top:551.52px;width:41.28px;text-align:center;overflow:hidden;transform-origin:0 0">252-041</div>
<div class="bt" style="left:614.50px;top:551.52px;width:29.65px;text-align:center;overflow:hidden;transform-origin:0 0"><span style="font-size:5.8px;letter-spacing:-0.15px">王宏东</span></div>
<div class="bt" style="left:640.00px;top:551.52px;width:33.72px;text-align:center;overflow:hidden;transform-origin:0 0">229</div>
<div class="bt" style="left:671.00px;top:551.52px;width:116.28px;overflow:hidden;transform-origin:0 0">6<span style="font-size:5.8px;letter-spacing:-0.15px">月上报呈来消化</span></div>
<div class="a n" style="left:386px;top:344px;width:201.5px;height:28.5px;background:#fcc002;font-size:17px;font-weight:bold;line-height:35px;letter-spacing:1.1px;padding-left:9px;color:#111">纸箱呆滞处理结果跟踪</div>

<!-- arrow -->
<svg class="a" style="left:340px;top:300px" width="60" height="90" viewBox="340 300 60 90">
<path d="M354,323.5 L368.5,323.5 L368.5,305.5 L385,342.5 L368.5,382 L368.5,362.2 L354,362.2 Q352,362.2 352,360.2 L352,325.5 Q352,323.5 354,323.5 Z" fill="#4a576d" stroke="#1f2a3a" stroke-width="1.2"/>
</svg>



<div id="footer" class="a"><span class="a" style="left:296px;top:4px;line-height:20px">让中国咨询回归理性</span><span class="a" style="left:444px;top:4px;line-height:20px">与民族企业共创共存</span></div>
</body></html>
